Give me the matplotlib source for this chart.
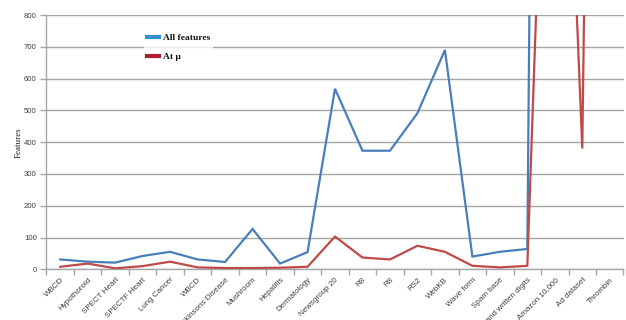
import matplotlib
matplotlib.use("Agg")
import matplotlib.pyplot as plt
from matplotlib.lines import Line2D

categories = ["WBCD", "Hypothoroid", "SPECT Heart", "SPECTF Heart", "Lung Cancer",
              "WBCD", "Parkinsons Disease", "Mushroom", "Hepatitis", "Dermatology",
              "Newsgroup 20", "R8", "R8", "RS2", "WebKB", "Wave form", "Spam base",
              "Hand written digits", "Amazon 10,000", "Ad dataset", "Thrombin"]
all_features = [31, 24, 21, 42, 55, 31, 23, 127, 18, 54, 568, 373, 373, 491, 690,
                40, 55, 64, 10000, 1558, 139351]
at_mu = [8, 18, 3, 10, 24, 6, 4, 4, 5, 8, 103, 37, 31, 74, 55, 11, 6, 11, 2500, 380, 7000]
y_ticks = [0, 100, 200, 300, 400, 500, 600, 700, 800]

blue = "#4A7EBB"
red = "#BE4B48"
grid_c = "#A6A6A6"
text_c = "#404040"

fig = plt.figure(figsize=(6.26, 3.2), dpi=100)
ax = fig.add_axes([46.5 / 626, 1 - 269.3 / 320, 577 / 626, (269.3 - 15) / 320])

x = list(range(len(categories)))
ax.plot(x, all_features, color=blue, lw=1.6, solid_joinstyle="miter", zorder=3)
ax.plot(x, at_mu, color=red, lw=1.6, solid_joinstyle="miter", zorder=3)

ax.set_xlim(-0.5, len(categories) - 0.5)
ax.set_ylim(0, 800)
ax.set_yticks(y_ticks)
ax.set_yticklabels([str(v) for v in y_ticks], fontsize=5.6, color=text_c,
                   family="Liberation Sans")
ax.yaxis.grid(True, color=grid_c, lw=1.0)
ax.set_axisbelow(True)

ax.set_xticks(x)
ax.set_xticklabels(categories, rotation=45, ha="right", rotation_mode="anchor",
                   fontsize=5.8, color=text_c, family="Liberation Sans")
ax.set_xticks([i - 0.5 for i in range(len(categories) + 1)], minor=True)
ax.tick_params(axis="x", which="major", length=0, pad=5)
ax.tick_params(axis="x", which="minor", length=4, color=grid_c, width=1.0)
ax.tick_params(axis="y", length=4, color=grid_c, width=1.0, pad=3)

for s in ("top", "right"):
    ax.spines[s].set_visible(False)
for s in ("left", "bottom"):
    ax.spines[s].set_color(grid_c)
    ax.spines[s].set_linewidth(1.0)

ax.set_ylabel("Features", fontsize=6.5, family="Liberation Serif", color="#222222",
              labelpad=1)

handles = [Line2D([], [], color="#2E8FD6", lw=3.0),
           Line2D([], [], color="#B0202F", lw=3.0)]
leg = fig.legend(handles, ["All features", "At \u03bc"], loc="upper left",
                 bbox_to_anchor=(139 / 626, 1 - 26 / 320), frameon=True,
                 facecolor="white", edgecolor="none", fancybox=False,
                 handlelength=1.3, handletextpad=0.45, labelspacing=1.1,
                 borderpad=0.3, prop={"family": "Liberation Serif", "weight": "bold",
                                      "size": 6.8})
for t in leg.get_texts():
    t.set_color("#111111")

fig.savefig("out.png", dpi=100)
